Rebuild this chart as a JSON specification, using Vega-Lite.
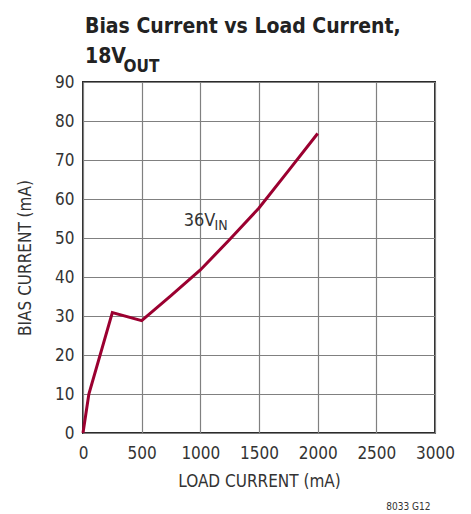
{
  "$schema": "https://vega.github.io/schema/vega-lite/v6.json",
  "autosize": "none",
  "width": 352,
  "height": 351,
  "padding": {"left": 83, "top": 82, "right": 36, "bottom": 81},
  "background": "white",
  "config": {
    "font": "DejaVu Sans Condensed, sans-serif",
    "view": {"stroke": "#2b2b2b", "strokeWidth": 2},
    "axis": {
      "grid": true,
      "gridColor": "#808080",
      "gridWidth": 1.2,
      "gridOpacity": 1,
      "domain": false,
      "ticks": false,
      "labelOverlap": false,
      "labelBound": false,
      "labelFont": "DejaVu Sans Condensed, sans-serif",
      "labelFontSize": 17,
      "labelColor": "#333333",
      "titleFont": "DejaVu Sans Condensed, sans-serif",
      "titleFontSize": 17,
      "titleFontWeight": "normal",
      "titleColor": "#333333"
    }
  },
  "title": {
    "text": ["Bias Current vs Load Current,", "18V"],
    "anchor": "start",
    "frame": "group",
    "font": "DejaVu Sans Condensed, sans-serif",
    "fontSize": 21,
    "fontWeight": "bold",
    "color": "#222222",
    "lineHeight": 29.5,
    "dx": 2,
    "dy": 27,
    "offset": 18
  },
  "datasets": {
    "curve": [
      {"load": 0, "bias": 0},
      {"load": 50, "bias": 10},
      {"load": 250, "bias": 30.9},
      {"load": 500, "bias": 28.8},
      {"load": 750, "bias": 35.2},
      {"load": 1000, "bias": 41.8},
      {"load": 1250, "bias": 49.6},
      {"load": 1500, "bias": 57.7},
      {"load": 1750, "bias": 67.2},
      {"load": 2000, "bias": 76.8}
    ]
  },
  "encoding": {
    "x": {
      "type": "quantitative",
      "scale": {"domain": [0, 3000], "nice": false},
      "axis": {"values": [0, 500, 1000, 1500, 2000, 2500, 3000], "format": "d", "title": "LOAD CURRENT (mA)", "labelPadding": 12, "titlePadding": 12, "labelFlush": false, "labelOverlap": false}
    },
    "y": {
      "type": "quantitative",
      "scale": {"domain": [0, 90], "nice": false},
      "axis": {"values": [0, 10, 20, 30, 40, 50, 60, 70, 80, 90], "format": "d", "title": "BIAS CURRENT (mA)", "labelPadding": 9, "titlePadding": 20, "labelOverlap": false, "labelFlush": false}
    }
  },
  "layer": [
    {
      "data": {"name": "curve"},
      "mark": {"type": "line", "color": "#9b0030", "strokeWidth": 3, "strokeJoin": "miter"},
      "encoding": {
        "x": {"field": "load", "type": "quantitative"},
        "y": {"field": "bias", "type": "quantitative"}
      }
    },
    {
      "data": {"values": [{}]},
      "mark": {"type": "text", "align": "left", "baseline": "alphabetic", "fontSize": 18, "color": "#333333"},
      "encoding": {"x": {"datum": 858}, "y": {"datum": 53}, "text": {"value": "36V"}}
    },
    {
      "data": {"values": [{}]},
      "mark": {"type": "text", "align": "left", "baseline": "alphabetic", "fontSize": 14, "color": "#333333"},
      "encoding": {"x": {"datum": 1120}, "y": {"datum": 52.05}, "text": {"value": "IN"}}
    },
    {
      "data": {"values": [{}]},
      "mark": {"type": "text", "align": "left", "baseline": "alphabetic", "fontSize": 17, "fontWeight": "bold", "color": "#222222"},
      "encoding": {"x": {"datum": 345}, "y": {"datum": 92.6}, "text": {"value": "OUT"}}
    },
    {
      "data": {"values": [{}]},
      "mark": {"type": "text", "align": "right", "baseline": "alphabetic", "fontSize": 10, "color": "#333333"},
      "encoding": {"x": {"datum": 2962}, "y": {"datum": -19.7}, "text": {"value": "8033 G12"}}
    }
  ]
}
